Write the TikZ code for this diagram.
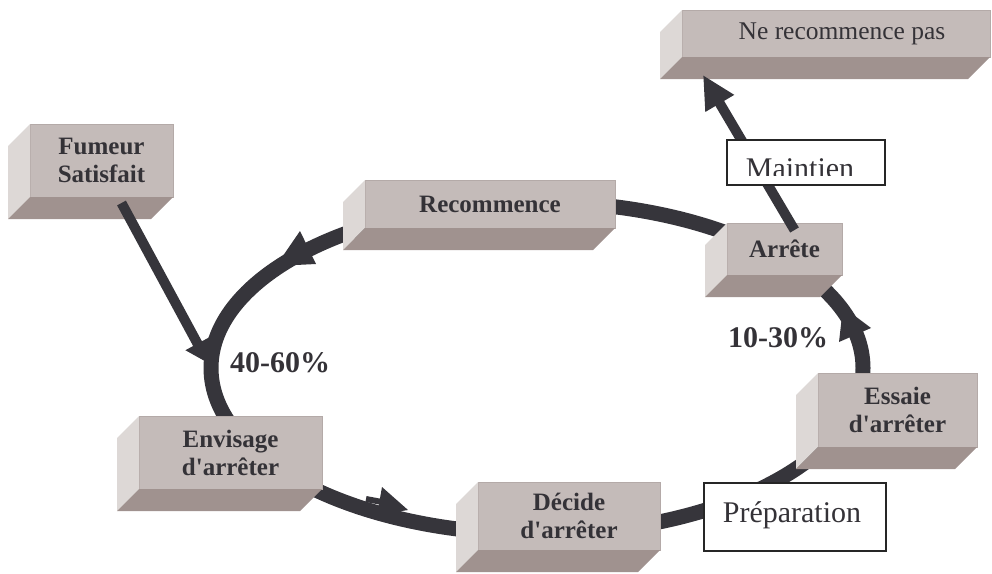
\documentclass[tikz,border=0pt]{standalone}
\usepackage{fontspec}
\setmainfont{Liberation Serif}
\usetikzlibrary{arrows.meta,calc}
\definecolor{frontc}{RGB}{196,187,185}
\definecolor{frontedge}{RGB}{180,170,168}
\definecolor{leftc}{RGB}{221,216,214}
\definecolor{bottomc}{RGB}{160,146,143}
\definecolor{inkc}{RGB}{54,53,59}
\definecolor{textc}{RGB}{52,50,55}
\newcommand{\boxsides}[1]{%
  \fill[leftc] (#1.north west) -- (#1.south west) -- ++(-22,22) -- ($(#1.north west)+(-22,22)$) -- cycle;
  \fill[bottomc] (#1.south west) -- (#1.south east) -- ++(-22,22) -- ($(#1.south west)+(-22,22)$) -- cycle;
}
\newcommand{\apos}{\textquotesingle}
\tikzset{
  stagebox/.style={rectangle, fill=frontc, draw=frontedge, line width=1pt, inner sep=0pt, outer sep=0pt, align=center, text=textc, font=\fontsize{25}{28}\selectfont\bfseries},
  plainbox/.style={rectangle, fill=frontc, draw=frontedge, line width=1pt, inner sep=0pt, outer sep=0pt, text=textc, font=\fontsize{25.5}{28}\selectfont},
  labelbox/.style={rectangle, fill=white, draw=black!85, line width=1.2pt, inner sep=0pt, outer sep=0pt},
  labeltext/.style={text=textc, font=\fontsize{30}{34}\selectfont, inner sep=0pt, anchor=base},
  pct/.style={text=textc, font=\fontsize{30}{34}\selectfont\bfseries, inner sep=0pt, anchor=base west},
  cycleline/.style={draw=inkc, line width=15pt},
  flowline/.style={draw=inkc, line width=10pt},
  headfill/.style={fill=inkc},
}
\begin{document}
\begin{tikzpicture}[x=1pt,y=-1pt]
\useasboundingbox (0,0) rectangle (992,573);
% the cycle
\coordinate (ctr) at (537,368);
\draw[cycleline] (ctr) ellipse [x radius=326, y radius=166];
% stage boxes
\node[stagebox, minimum width=143pt, minimum height=73pt] (fumeur) at (101.5,160.5) {Fumeur\\Satisfait};
\boxsides{fumeur}
\node[stagebox, minimum width=250pt, minimum height=48pt] (recommence) at (490,204) {Recommence};
\boxsides{recommence}
\node[plainbox, minimum width=308pt, minimum height=47pt] (nrp) at (836,33.5) {\hspace*{12pt}Ne recommence pas};
\boxsides{nrp}
\node[stagebox, minimum width=115pt, minimum height=52pt] (arrete) at (784.5,249) {Arrête};
\boxsides{arrete}
\node[stagebox, minimum width=183pt, minimum height=73pt] (envisage) at (230.5,452.5) {Envisage\\d\apos arrêter};
\boxsides{envisage}
\node[stagebox, minimum width=182pt, minimum height=68pt] (decide) at (569,516) {Décide\\d\apos arrêter};
\boxsides{decide}
\node[stagebox, minimum width=159pt, minimum height=74pt] (essaie) at (897.5,410) {Essaie\\d\apos arrêter};
\boxsides{essaie}
% straight arrows
\coordinate (c40) at (208,363);
\draw[flowline, -{Triangle[length=22pt,width=26pt]}] ($(fumeur.south)+(20,6)$) -- (c40);
\draw[flowline, -{Triangle[length=33pt,width=31pt]}] ($(arrete.north)+(10,7)$) -- ($(nrp.south west)+(21,18)$);
% white label boxes
\node[labelbox, minimum width=158pt, minimum height=45pt] (maintien) at (806,162.5) {};
\begin{scope}
  \clip ($(maintien.north west)+(1,1)$) rectangle ($(maintien.south east)+(-1,-10)$);
  \node[labeltext] (maintientext) at (800,178) {Maintien};
\end{scope}
\node[labelbox, minimum width=182pt, minimum height=68pt] (preparation) at (795,517) {};
\node[labeltext] (preparationtext) at (792,522) {Préparation};
% arrowheads on the cycle
\fill[headfill] (300,231) -- (316,264) -- (276,266) -- cycle;
\fill[headfill] (382,487) -- (408,510) -- (377,515) -- cycle;
\draw[inkc, line width=6pt] (366,499) -- (382,502);
\fill[headfill] (871,328) -- (843,307) -- (839,342) -- cycle;
% percentages
\node[pct] (p4060) at (230,372) {40-60\%};
\node[pct] (p1030) at (728,347) {10-30\%};
\end{tikzpicture}
\end{document}
